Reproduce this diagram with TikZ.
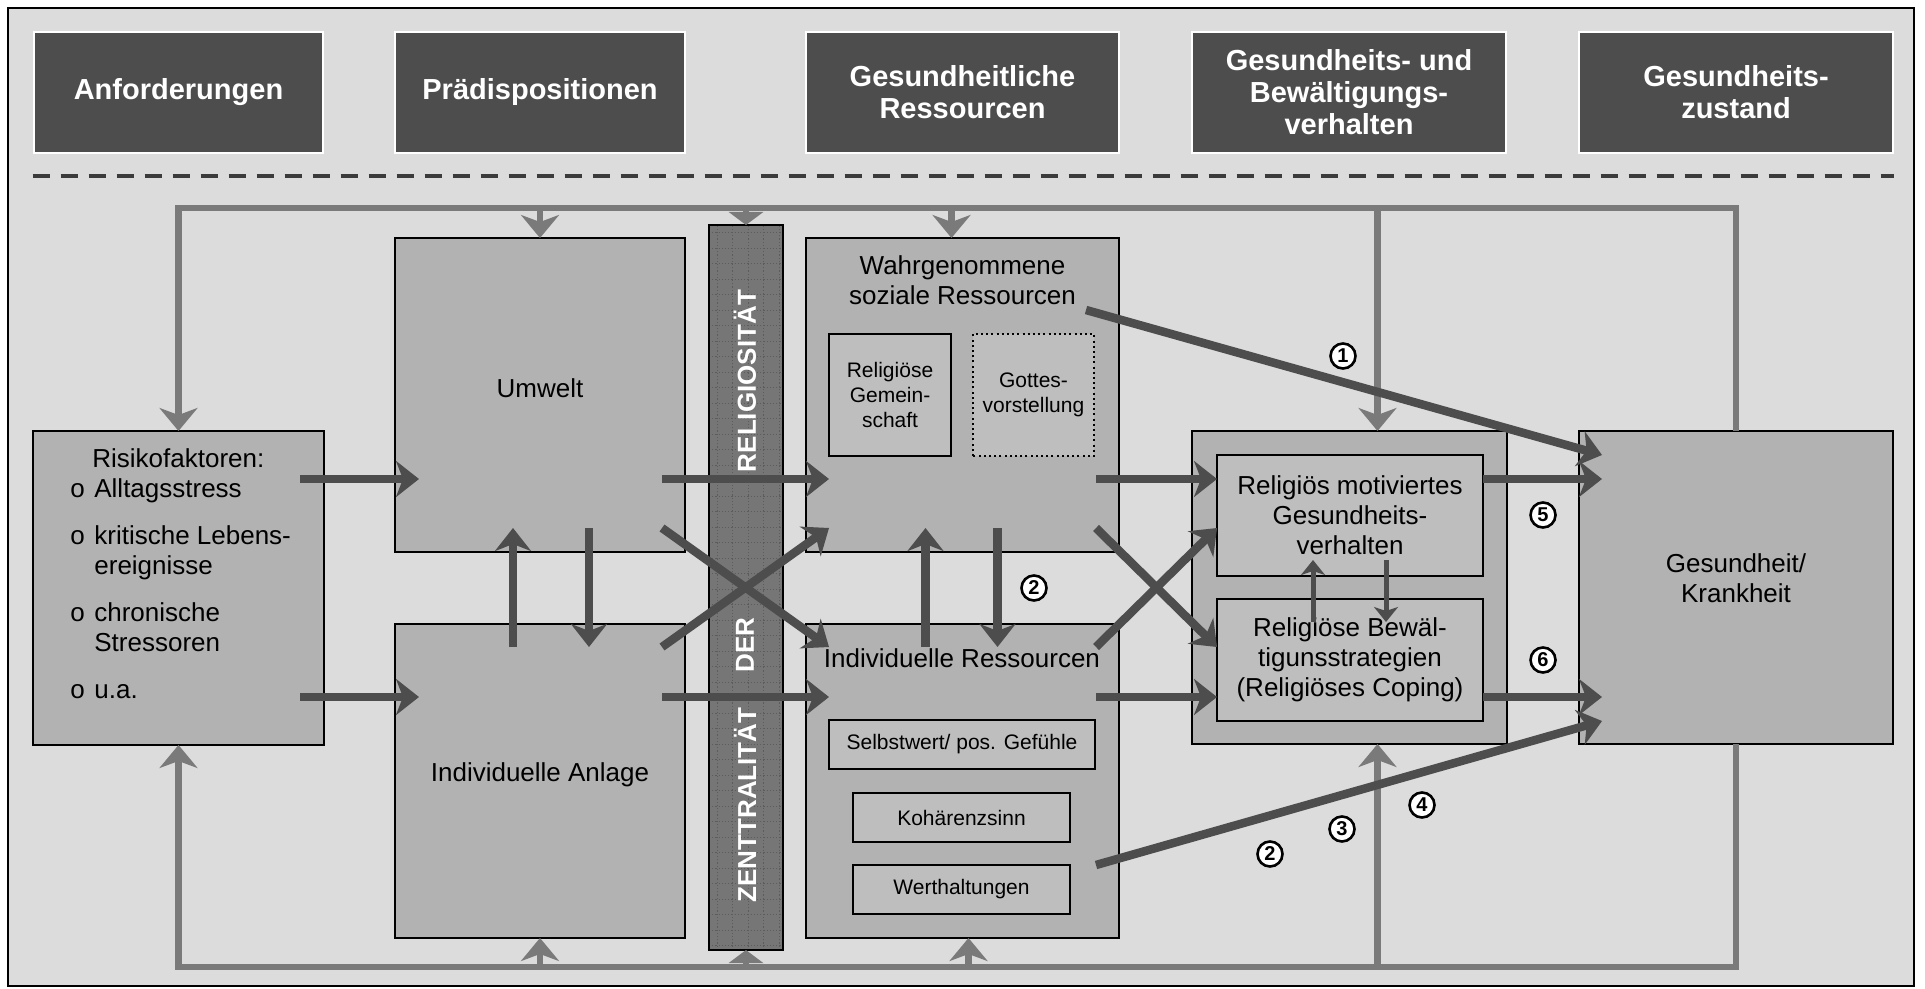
\documentclass[tikz,border=0pt]{standalone}
\usepackage{fontspec}
\setmainfont{Liberation Sans}
\usepackage{tikz}
\usetikzlibrary{arrows.meta}
\usetikzlibrary{positioning}

\definecolor{framegray}{RGB}{220,220,220}
\definecolor{boxgray}{RGB}{178,178,178}
\definecolor{innergray}{RGB}{190,190,190}
\definecolor{headgray}{RGB}{77,77,77}
\definecolor{darkarrow}{RGB}{77,77,77}
\definecolor{lightarrow}{RGB}{122,122,122}
\definecolor{bargray}{RGB}{118,118,118}
\definecolor{gridgray}{RGB}{92,92,92}

\newcommand{\bul}{\makebox[12pt][l]{o}}

\tikzset{
  box/.style={draw=black, line width=1.3pt, fill=boxgray, inner sep=0pt, outer sep=0pt},
  inbox/.style={box, fill=innergray, align=center, font=\fontsize{10.5}{12.5}\selectfont},
  midbox/.style={box, fill=innergray, align=center, font=\fontsize{13}{15}\selectfont},
  headbox/.style={draw=white, line width=1.3pt, fill=headgray, text=white, align=center,
    minimum height=60.5pt, inner sep=0pt, font=\bfseries\fontsize{14.5}{16}\selectfont},
  txt/.style={align=center, inner sep=0pt, font=\fontsize{13}{15}\selectfont},
  bartxt/.style={rotate=90, text=white, inner sep=0pt, font=\bfseries\fontsize{13}{13}\selectfont},
  darr/.style={draw=darkarrow, line width=4.25pt, -{Stealth[length=11.5pt,width=18pt,inset=3.5pt]}},
  smallarr/.style={draw=darkarrow, line width=2.5pt, -{Stealth[length=7.5pt,width=12pt,inset=2pt]}},
  larr/.style={draw=lightarrow, line width=3.25pt, -{Stealth[length=11.5pt,width=19pt,inset=3.5pt]}},
  lline/.style={draw=lightarrow, line width=3.25pt},
  num/.style={circle, draw=black, fill=white, line width=1.3pt, minimum size=12.5pt, inner sep=0pt,
    font=\bfseries\fontsize{10}{10}\selectfont},
}

\begin{document}
\begin{tikzpicture}[x=0.5pt,y=-0.5pt]
  \useasboundingbox (0,0) rectangle (1925,989);
  \draw[fill=framegray, line width=1pt] (8,8) rectangle (1914,986);

  \node[headbox, minimum width=144.5pt] (anford) at (178.5,92.5) {Anforderungen};
  \node[headbox, minimum width=145pt] (praedis) at (540,92.5) {Prädispositionen};
  \node[headbox, minimum width=156.5pt] (ressour) at (962.5,92.5) {Gesundheitliche\\Ressourcen};
  \node[headbox, minimum width=157pt] (verhalt) at (1349,92.5) {Gesundheits- und\\Bewältigungs-\\verhalten};
  \node[headbox, minimum width=157pt] (zustand) at (1736,92.5) {Gesundheits-\\zustand};

  \coordinate (dashrow) at (0,176);
  \draw[draw=darkarrow!110, line width=2.3pt, dash pattern=on 8.5pt off 5.5pt] (dashrow -| anford.west) -- (dashrow -| zustand.east);

  \coordinate (toprow) at (0,208);
  \coordinate (botrow) at (0,967);
  \coordinate (rowup) at (0,479);
  \coordinate (rowlow) at (0,697);
  \coordinate (crossup) at (0,528);
  \coordinate (crosslow) at (0,647);

  \node[box, minimum width=145.5pt, minimum height=157pt] (risiko) at (178.5,588) {};
  \node[box, minimum width=145pt, minimum height=157pt] (umwelt) at (540,395) {};
  \node[box, minimum width=145pt, minimum height=157pt] (anlage) at (540,781) {};
  \node[box, fill=bargray, minimum width=37pt, minimum height=362.5pt] (bar) at (746,587.5) {};
  \node[box, minimum width=156.5pt, minimum height=157pt] (wahrg) at (962.5,395) {};
  \node[box, minimum width=156.5pt, minimum height=157pt] (indiv) at (962.5,781) {};
  \node[box, minimum width=157.5pt, minimum height=156.5pt] (verh) at (1349.5,587.5) {};
  \node[box, minimum width=157pt, minimum height=156.5pt] (gesund) at (1736,587.5) {};

  \begin{scope}
    \clip (bar.south west) rectangle (bar.north east);
    \draw[gridgray, line width=0.4pt, dash pattern=on 0.6pt off 1pt, step=7.75pt, xshift=2pt] (bar.south west) grid (bar.north east);
  \end{scope}
  \draw[line width=1.3pt] (bar.south west) rectangle (bar.north east);

  \node[inbox, minimum width=61pt, minimum height=61pt] (gemein) at (890,395) {Religiöse\\Gemein-\\schaft};
  \node[inbox, draw=none, minimum width=60.5pt, minimum height=61pt] (gottes) at (1033.5,395) {Gottes-\\vorstellung};
  \draw[line width=1pt, dash pattern=on 1pt off 1.6pt] (gottes.south west) rectangle (gottes.north east);
  \node[inbox, minimum width=133pt, minimum height=24.5pt] (selbst) at (962,744.5) {Selbstwert/ pos. Gefühle};
  \node[inbox, minimum width=108.5pt, minimum height=24.5pt] (kohaer) at (961.5,817.5) {Kohärenzsinn};
  \node[inbox, minimum width=108.5pt, minimum height=24.5pt] (werth) at (961.5,889.5) {Werthaltungen};
  \node[midbox, minimum width=133pt, minimum height=60.5pt] (motiv) at (1350,515.5) {Religiös motiviertes\\Gesundheits-\\verhalten};
  \node[midbox, minimum width=133pt, minimum height=61pt] (bewaelt) at (1350,660) {Religiöse Bewäl-\\tigunsstrategien\\(Religiöses Coping)};

  \node[txt, align=left, anchor=north west] (risikotxt) at (70,448) {\hspace*{11pt}Risikofaktoren:\\\bul Alltagsstress\\[8.5pt]\bul kritische Lebens-\\\hphantom{\bul}ereignisse\\[8.5pt]\bul chronische\\\hphantom{\bul}Stressoren\\[8.5pt]\bul u.a.};
  \node[txt] (umwelttxt) at (540,388) {Umwelt};
  \node[txt] (anlagetxt) at (540,775) {Individuelle Anlage};
  \node[txt] (wahrgtxt) at (962.5,280) {Wahrgenommene\\soziale Ressourcen};
  \node[txt] (indivtxt) at (962,658) {Individuelle Ressourcen};
  \node[txt] (gesundtxt) at (1736,578) {Gesundheit/\\Krankheit};
  \node[bartxt] (relig) at (745,381) {RELIGIOSITÄT};
  \node[bartxt] (der) at (745,645) {DER};
  \node[bartxt] (zentr) at (745,805) {ZENTTRALITÄT};

  \draw[larr] (gesund.north) |- (risiko.north |- toprow) -- (risiko.north);
  \draw[larr] (umwelt.north |- toprow) -- (umwelt.north);
  \draw[lline, -{Triangle[length=6.5pt,width=17pt]}] (bar.north |- toprow) -- (bar.north);
  \draw[larr] ([xshift=-5.5pt]wahrg.north |- toprow) -- ([xshift=-5.5pt]wahrg.north);
  \draw[larr] ([xshift=14pt]verh.north |- toprow) -- ([xshift=14pt]verh.north);
  \draw[larr] (gesund.south) |- (risiko.south |- botrow) -- (risiko.south);
  \draw[larr] (anlage.south |- botrow) -- (anlage.south);
  \draw[lline, -{Triangle[length=6.5pt,width=17pt]}] (bar.south |- botrow) -- (bar.south);
  \draw[larr] ([xshift=3pt]indiv.south |- botrow) -- ([xshift=3pt]indiv.south);
  \draw[larr] ([xshift=14pt]verh.south |- botrow) -- ([xshift=14pt]verh.south);

  \draw[darr] ([xshift=-12pt]risiko.east |- rowup) -- ([xshift=12pt]umwelt.west |- rowup);
  \draw[darr] ([xshift=-12pt]risiko.east |- rowlow) -- ([xshift=12pt]anlage.west |- rowlow);
  \draw[darr] ([xshift=-13.5pt]anlage.north |- crosslow) -- ([xshift=-13.5pt]umwelt.south |- crossup);
  \draw[darr] ([xshift=24.5pt]umwelt.south |- crossup) -- ([xshift=24.5pt]anlage.north |- crosslow);
  \draw[darr] ([xshift=-11.5pt]umwelt.east |- rowup) -- ([xshift=11.5pt]wahrg.west |- rowup);
  \draw[darr] ([xshift=-11.5pt]anlage.east |- rowlow) -- ([xshift=11.5pt]indiv.west |- rowlow);
  \draw[darr] ([xshift=-11.5pt]umwelt.east |- crossup) -- ([xshift=11.5pt]indiv.west |- crosslow);
  \draw[darr] ([xshift=-11.5pt]anlage.east |- crosslow) -- ([xshift=11.5pt]wahrg.west |- crossup);
  \draw[darr] ([xshift=-18.5pt]indiv.north |- crosslow) -- ([xshift=-18.5pt]wahrg.south |- crossup);
  \draw[darr] ([xshift=17.5pt]wahrg.south |- crossup) -- ([xshift=17.5pt]indiv.north |- crosslow);
  \draw[darr] ([xshift=-11.5pt]wahrg.east |- rowup) -- (motiv.west |- rowup);
  \draw[darr] ([xshift=-11.5pt]indiv.east |- rowlow) -- (bewaelt.west |- rowlow);
  \draw[darr] ([xshift=-11.5pt]wahrg.east |- crossup) -- (bewaelt.west |- crosslow);
  \draw[darr] ([xshift=-11.5pt]indiv.east |- crosslow) -- (motiv.west |- crossup);
  \draw[smallarr] ([xshift=-18.5pt,yshift=-11.5pt]bewaelt.north) -- ([xshift=-18.5pt,yshift=8pt]motiv.south);
  \draw[smallarr] ([xshift=18pt,yshift=8pt]motiv.south) -- ([xshift=18pt,yshift=-11.5pt]bewaelt.north);
  \draw[darr] (motiv.east |- rowup) -- ([xshift=11.5pt]gesund.west |- rowup);
  \draw[darr] (bewaelt.east |- rowlow) -- ([xshift=11.5pt]gesund.west |- rowlow);
  \draw[darr] ([xshift=-16.5pt,yshift=-36pt]wahrg.north east) -- ([xshift=11.5pt,yshift=-12pt]gesund.north west);
  \draw[darr] ([xshift=-11.5pt,yshift=36.5pt]indiv.south east) -- ([xshift=11.5pt,yshift=11.5pt]gesund.south west);

  \node[num] (n1) at (1343,356) {1};
  \node[num] (n2a) at (1034,588) {2};
  \node[num] (n2b) at (1270,854) {2};
  \node[num] (n3) at (1342,829) {3};
  \node[num] (n4) at (1422,805) {4};
  \node[num] (n5) at (1543,515) {5};
  \node[num] (n6) at (1543,660) {6};
\end{tikzpicture}
\end{document}
